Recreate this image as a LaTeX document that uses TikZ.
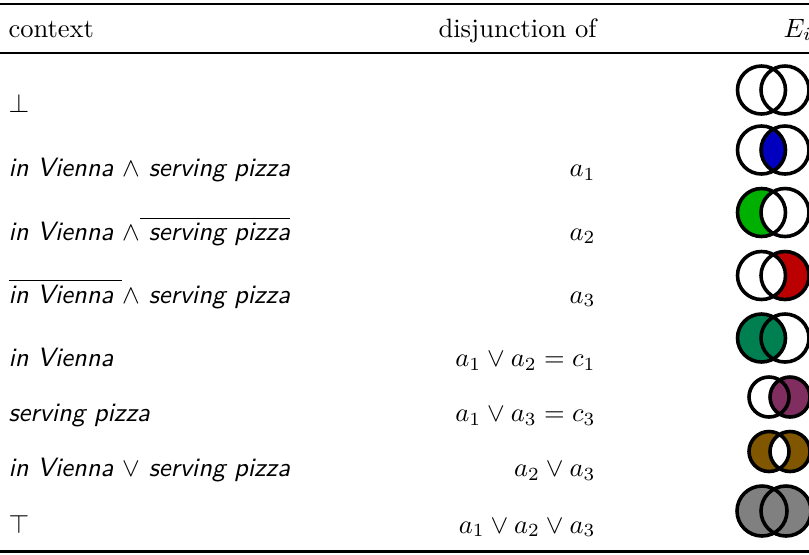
\documentclass[tikz,border=0pt]{standalone}
\usepackage{amsmath,amssymb}
\definecolor{cBlue}{RGB}{0,0,190}
\definecolor{cGreen}{RGB}{0,176,0}
\definecolor{cRed}{RGB}{186,0,0}
\definecolor{cTeal}{RGB}{0,128,80}
\definecolor{cPurple}{RGB}{128,45,95}
\definecolor{cBrown}{RGB}{128,86,0}
\definecolor{cGray}{RGB}{128,128,128}
\newcommand\ctx[1]{\textsf{\textit{#1}}}
% negated context: overlined, keeping the current text font
\newcommand\negctx[1]{$\overline{\hbox{#1}}$}
\newcommand\pxu{0.377pt}
% radius of a Venn circle, given in picture units
\newcommand\setvr[1]{\pgfmathsetlengthmacro\vr{#1*\pxu}}
\begin{document}
\begin{tikzpicture}[x=\pxu,y=-\pxu,
  lbl/.style={anchor=base west,inner sep=0pt},
  rlbl/.style={anchor=base east,inner sep=0pt},
  vennline/.style={draw=black,line width=1.35pt},
  toprule/.style={line width=0.8pt},
  midrule/.style={line width=0.5pt}]
\useasboundingbox (0,0) rectangle (809,554);

% table rules
\draw[toprule] (0,4) -- (809,4);
\draw[midrule] (0,53) -- (809,53);
\draw[toprule] (0,551.5) -- (809,551.5);

% header
\node[lbl]  (hctx) at (8,37)   {context};
\node[rlbl] (hdis) at (597,37) {disjunction of};
\node[lbl]  (hev)  at (783,37) {$E_i$};

% context column
\node[lbl] (c0) at (8,112)   {$\bot$};
\node[lbl] (c1) at (8,176.7) {\ctx{in Vienna $\wedge$ serving pizza}};
\node[lbl] (c2) at (8,240)   {\ctx{in Vienna $\wedge$\negctx{\ serving pizza}}};
\node[lbl] (c3) at (8,303)   {\ctx{\negctx{in Vienna\ }$\wedge$ serving pizza}};
\node[lbl] (c4) at (8,366.7) {\ctx{in Vienna}};
\node[lbl] (c5) at (8,421.7) {\ctx{serving pizza}};
\node[lbl] (c6) at (8,476.7) {\ctx{in Vienna $\vee$ serving pizza}};
\node[lbl] (c7) at (8,533)   {$\top$};

% disjunction column
\node[rlbl] (d1) at (596,176.7) {$a_1$};
\node[rlbl] (d2) at (596,240)   {$a_2$};
\node[rlbl] (d3) at (596,303)   {$a_3$};
\node[rlbl] (d4) at (596,366.7) {$a_1 \vee a_2 = c_1$};
\node[rlbl] (d5) at (596,421.7) {$a_1 \vee a_3 = c_3$};
\node[rlbl] (d6) at (596,476.7) {$a_2 \vee a_3$};
\node[rlbl] (d7) at (596,533)   {$a_1 \vee a_2 \vee a_3$};

% Venn diagrams: left circle = in Vienna, right circle = serving pizza
% empty set
\coordinate (v0a) at (761.5,90); \coordinate (v0b) at (785,90); \setvr{24}
\draw[vennline] (v0a) circle[radius=\vr] (v0b) circle[radius=\vr];

% intersection
\coordinate (v1a) at (761.5,150); \coordinate (v1b) at (785,150); \setvr{24}
\begin{scope}
  \clip (v1a) circle[radius=\vr];
  \fill[cBlue] (v1b) circle[radius=\vr];
\end{scope}
\draw[vennline] (v1a) circle[radius=\vr] (v1b) circle[radius=\vr];

% left only
\coordinate (v2a) at (761.5,212.5); \coordinate (v2b) at (785,212.5); \setvr{24}
\begin{scope}
  \clip (v2a) circle[radius=\vr];
  \fill[cGreen,even odd rule] (v2a) circle[radius=\vr] (v2b) circle[radius=\vr];
\end{scope}
\draw[vennline] (v2a) circle[radius=\vr] (v2b) circle[radius=\vr];

% right only
\coordinate (v3a) at (761.5,275.5); \coordinate (v3b) at (785,275.5); \setvr{24}
\begin{scope}
  \clip (v3b) circle[radius=\vr];
  \fill[cRed,even odd rule] (v3a) circle[radius=\vr] (v3b) circle[radius=\vr];
\end{scope}
\draw[vennline] (v3a) circle[radius=\vr] (v3b) circle[radius=\vr];

% whole left circle
\coordinate (v4a) at (761.5,338); \coordinate (v4b) at (785,338); \setvr{24}
\fill[cTeal] (v4a) circle[radius=\vr];
\draw[vennline] (v4a) circle[radius=\vr] (v4b) circle[radius=\vr];

% whole right circle
\coordinate (v5a) at (769,397); \coordinate (v5b) at (790,397); \setvr{20}
\fill[cPurple] (v5b) circle[radius=\vr];
\draw[vennline] (v5a) circle[radius=\vr] (v5b) circle[radius=\vr];

% symmetric difference
\coordinate (v6a) at (769,451.5); \coordinate (v6b) at (790,451.5); \setvr{20}
\fill[cBrown,even odd rule] (v6a) circle[radius=\vr] (v6b) circle[radius=\vr];
\draw[vennline] (v6a) circle[radius=\vr] (v6b) circle[radius=\vr];

% union
\coordinate (v7a) at (762,511); \coordinate (v7b) at (786,511); \setvr{25}
\fill[cGray] (v7a) circle[radius=\vr] (v7b) circle[radius=\vr];
\draw[vennline] (v7a) circle[radius=\vr] (v7b) circle[radius=\vr];
\end{tikzpicture}
\end{document}
